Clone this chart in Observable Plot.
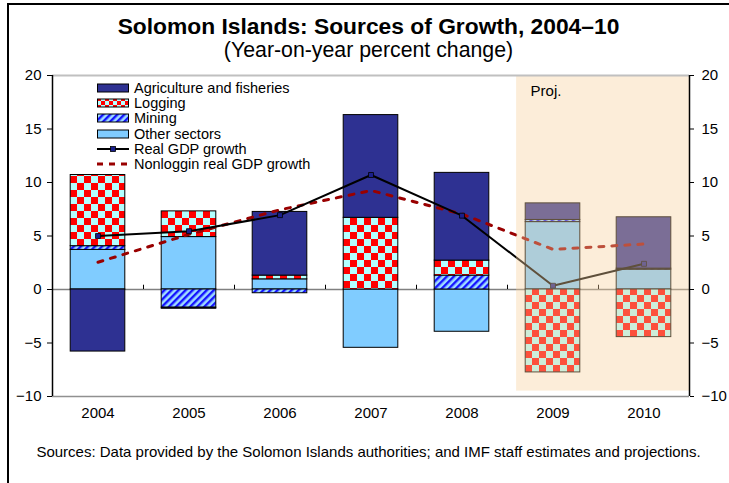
<!DOCTYPE html>
<html><head><meta charset="utf-8">
<script src="https://cdn.jsdelivr.net/npm/d3@7"></script>
<script src="https://cdn.jsdelivr.net/npm/@observablehq/plot@0.6"></script>
<style>
body{margin:0;background:#fff;font-family:"Liberation Sans",Arial,sans-serif;color:#000;}
#wrap{position:relative;width:729px;height:483px;overflow:hidden;background:#fff;}
#frame{position:absolute;left:7px;top:3px;width:740px;height:500px;border-left:2px solid #000;border-top:2px solid #000;}
#title{position:absolute;left:8px;width:721px;top:13px;text-align:center;font-weight:bold;font-size:22.8px;line-height:26px;}
#subtitle{position:absolute;left:8px;width:721px;top:38px;text-align:center;font-size:21.3px;line-height:24px;}
#chart{position:absolute;left:0;top:64px;}
#caption{position:absolute;left:8px;width:721px;top:443px;text-align:center;font-size:15px;line-height:17px;}
#legend{position:absolute;left:97px;top:80px;font-size:14.5px;z-index:2;}
.lrow{display:flex;align-items:center;height:15.3px;white-space:nowrap;}
.lrow svg{display:block;margin-right:5px;}
</style>
</head><body>
<svg width="0" height="0" style="position:absolute">
<defs>
<pattern id="checker" width="14" height="14" patternUnits="userSpaceOnUse">
<rect width="14" height="14" fill="#b3ffff"/>
<rect width="7" height="7" fill="#ff0000"/>
<rect x="7" y="7" width="7" height="7" fill="#ff0000"/>
</pattern>
<pattern id="checkerSmall" width="8" height="8" patternUnits="userSpaceOnUse">
<rect width="8" height="8" fill="#b3ffff"/>
<rect width="4" height="4" fill="#ff0000"/>
<rect x="4" y="4" width="4" height="4" fill="#ff0000"/>
</pattern>
<pattern id="hatch" width="5" height="5" patternUnits="userSpaceOnUse" patternTransform="rotate(45)">
<rect width="5" height="5" fill="#9fdcff"/>
<rect width="2.4" height="5" fill="#1414ff"/>
</pattern>
</defs></svg>
<div id="wrap">
<div id="frame"></div>
<div id="title">Solomon Islands: Sources of Growth, 2004–10</div>
<div id="subtitle">(Year-on-year percent change)</div>
<div id="chart"></div>
<div id="legend"></div>
<div id="caption">Sources: Data provided by the Solomon Islands authorities; and IMF staff estimates and projections.</div>
</div>
<script>
// ---- data ----
const years = [2004, 2005, 2006, 2007, 2008, 2009, 2010];
const agriculture = [-5.8, -0.1, 5.95, 9.6, 8.2, 1.55, 4.8];
const logging = [6.65, 2.4, 0.35, 6.7, 1.4, -7.75, -4.45];
const mining = [0.35, -1.7, -0.35, 0, 1.3, 0.2, 0.1];
const otherSectors = [3.7, 4.9, 0.95, -5.45, -3.95, 6.3, 1.85];
const realGDP = [5.0, 5.45, 6.95, 10.7, 6.9, 0.35, 2.4];
const nonloggingGDP = [2.55, 5.15, 7.45, 9.25, 7.05, 3.75, 4.25];
const seriesNames = ["Agriculture and fisheries", "Logging", "Mining", "Other sectors"];
const lineNames = ["Real GDP growth", "Nonloggin real GDP growth"];
const yTicks = [-10, -5, 0, 5, 10, 15, 20];
const projLabel = "Proj.";
const firstProjYear = 2009;

// ---- styles ----
const fills = {
  "Agriculture and fisheries": "#2e3192",
  "Logging": "url(#checker)",
  "Mining": "url(#hatch)",
  "Other sectors": "#80ccff"
};
const legendFills = {...fills, "Logging": "url(#checkerSmall)"};
const stackOrder = ["Other sectors", "Mining", "Logging", "Agriculture and fisheries"];
const values = {
  "Agriculture and fisheries": agriculture,
  "Logging": logging,
  "Mining": mining,
  "Other sectors": otherSectors
};
const half = 0.3;
const projStart = firstProjYear - 0.4;

// stacking
const segs = [];
years.forEach((yr, i) => {
  let pos = 0, neg = 0;
  for (const s of stackOrder) {
    const v = values[s][i];
    if (!v) continue;
    if (v > 0) { segs.push({year: yr, series: s, y1: pos, y2: pos + v}); pos += v; }
    else { segs.push({year: yr, series: s, y1: neg + v, y2: neg}); neg += v; }
  }
});

const gdp = years.map((y, i) => ({year: y, value: realGDP[i]}));
const nonlog = years.map((y, i) => ({year: y, value: nonloggingGDP[i]}));
const xMin = years[0] - 0.5, xMax = years[years.length - 1] + 0.5;
const yMin = yTicks[0], yMax = yTicks[yTicks.length - 1];

const chart = Plot.plot({
  width: 729,
  height: 362,
  marginLeft: 52,
  marginRight: 40,
  marginTop: 11,
  marginBottom: 30,
  style: {fontFamily: "Liberation Sans, Arial, sans-serif", fontSize: "15px", color: "#000", background: "transparent"},
  x: {type: "linear", domain: [xMin, xMax]},
  y: {domain: [yMin, yMax]},
  marks: [
    Plot.ruleY([0], {stroke: "#808080", strokeWidth: 1.5}),
    ...stackOrder.map(s => Plot.rect(segs.filter(d => d.series === s), {
      x1: d => d.year - half, x2: d => d.year + half, y1: "y1", y2: "y2",
      fill: fills[s], stroke: "#000", strokeWidth: 1
    })),
    Plot.ruleX(years.slice(0, -1).map(y => y + 0.5), {y1: 0, y2: 0.4, stroke: "#000", strokeWidth: 1}),
    Plot.line(nonlog, {x: "year", y: "value", stroke: "#990000", strokeWidth: 3, strokeDasharray: "5,8"}),
    Plot.line(gdp, {x: "year", y: "value", stroke: "#000", strokeWidth: 2}),
    Plot.dot(gdp, {x: "year", y: "value", symbol: "square", r: 2.8, fill: "#1a1f8c", stroke: "#000", strokeWidth: 0.8}),
    Plot.rect([{x1: projStart, x2: xMax, y1: -9.5, y2: yMax}], {
      x1: "x1", x2: "x2", y1: "y1", y2: "y2", fill: "rgb(247,208,156)", fillOpacity: 0.385
    }),
    Plot.text([projLabel], {x: projStart, y: yMax, dx: 14, dy: 16, textAnchor: "start", fontSize: 15, fill: "#000"}),
    Plot.ruleY([yMax], {stroke: "#c0c0c0", strokeWidth: 2}),
    Plot.ruleY([yMin], {stroke: "#909090", strokeWidth: 1.5}),
    Plot.ruleX([xMin, xMax], {stroke: "#000", strokeWidth: 1.5}),
    Plot.axisY({anchor: "left", ticks: yTicks, tickSize: 5, tickPadding: 6, fontSize: 15}),
    Plot.axisY({anchor: "right", ticks: yTicks, tickSize: 4, tickPadding: 8, fontSize: 15}),
    Plot.axisX({anchor: "bottom", ticks: years, tickSize: 0, tickPadding: 11, tickFormat: d => String(d), fontSize: 15})
  ]
});
document.getElementById("chart").appendChild(chart);

// legend
const legend = document.getElementById("legend");
const sw = (inner) => `<svg width="32" height="12">${inner}</svg>`;
const rows = [
  ...seriesNames.map(s => [s, sw(`<rect x="0.5" y="2" width="31" height="8" fill="${legendFills[s]}" stroke="#000" stroke-width="1"/>`)]),
  [lineNames[0], sw(`<line x1="0" y1="6" x2="32" y2="6" stroke="#000" stroke-width="2"/><rect x="13.5" y="3.5" width="5" height="5" fill="#1a1f8c" stroke="#000" stroke-width="0.8"/>`)],
  [lineNames[1], sw(`<line x1="0" y1="6" x2="32" y2="6" stroke="#990000" stroke-width="3" stroke-dasharray="6,6"/>`)]
];
legend.innerHTML = rows.map(([name, svg]) => `<div class="lrow">${svg}<span>${name}</span></div>`).join("");
</script>
</body></html>
